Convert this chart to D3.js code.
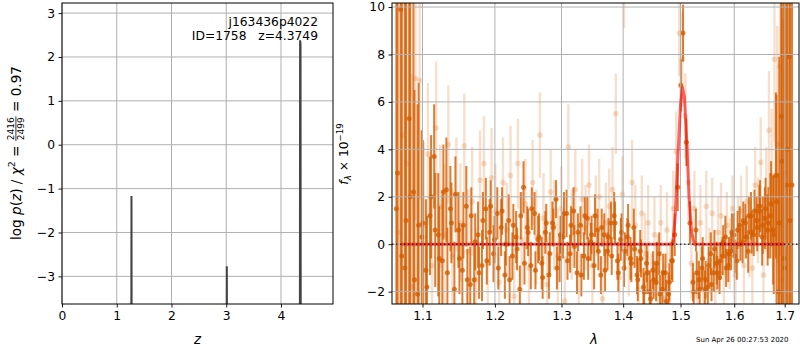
<!DOCTYPE html>
<html>
<head>
<meta charset="utf-8">
<script src="https://cdn.jsdelivr.net/npm/d3@7"></script>
<style>
  body { margin: 0; background: #fff; }
  svg { font-family: "DejaVu Sans", sans-serif; }
</style>
</head>
<body>
<svg id="chart" width="800" height="350"></svg>
<script>
// ---- left panel: log p(z)
const zValues = [0, 1.262, 1.269, 1.276, 3.004, 3.011, 3.018, 4.343, 4.349, 4.357, 4.363, 4.95];
const logP = [-8, -8, -1.17, -8, -8, -2.77, -8, -8, 2.38, 2.3, -8, -8];
const zTicks = [0, 1, 2, 3, 4];
const pTicks = [-3, -2, -1, 0, 1, 2, 3];

// ---- right panel: spectrum (two dark sets, one light set)
const darkWave = [1.066, 1.0715, 1.077, 1.0825, 1.088, 1.0935, 1.099, 1.1045, 1.11, 1.1155,
  1.121, 1.1265, 1.132, 1.1375, 1.143, 1.1485, 1.154, 1.1595, 1.165, 1.1705,
  1.176, 1.1815, 1.187, 1.1925, 1.198, 1.2035, 1.209, 1.2145, 1.22, 1.2255,
  1.231, 1.2365, 1.242, 1.2475, 1.253, 1.2585, 1.264, 1.2695, 1.275, 1.2805,
  1.286, 1.2915, 1.297, 1.3025, 1.308, 1.3135, 1.319, 1.3245, 1.33, 1.3355,
  1.341, 1.3465, 1.352, 1.3575, 1.363, 1.3685, 1.374, 1.3795, 1.385, 1.3905,
  1.396, 1.4015, 1.407, 1.4125, 1.418, 1.4235, 1.429, 1.4345, 1.44, 1.4455,
  1.451, 1.4565, 1.462, 1.4675, 1.473, 1.4785, 1.484, 1.4895, 1.495, 1.5005,
  1.5045, 1.5105, 1.517, 1.5225, 1.528, 1.5335, 1.539, 1.5445, 1.55, 1.5555,
  1.561, 1.5665, 1.572, 1.5775, 1.583, 1.5885, 1.594, 1.5995, 1.605, 1.6105,
  1.616, 1.6215, 1.627, 1.6325, 1.638, 1.6435, 1.649, 1.6545, 1.66, 1.6655,
  1.671, 1.6765, 1.682, 1.6875, 1.693, 1.6985, 1.704, 1.7095, 1.715];
const darkFlux = [1.5, 9.9, -1.0, 5.3, 2.2, -2.1, 0.3, -1.1, 1.2, 3.7,
  0.4, -0.7, 2.3, 1.5, -1.9, 0.6, -1.1, 1.6, -1.7, -1.5,
  0.4, -0.9, 1.5, 0.5, -0.4, 1.3, 0.7, -1.3, 1.0, -0.5,
  0.3, -1.9, 2.4, 0.7, -0.9, 1.3, 0.2, -0.8, 0.5, -1.3,
  0.9, 1.9, -0.6, 0.3, 1.3, -0.4, 1.4, -1.2, 0.8, -0.5,
  1.1, 0.1, -0.9, 0.6, -1.3, 0.4, -0.3, 0.9, 1.2, -0.7,
  0.2, -1.0, 0.3, -0.6, 0.7, -1.3, -0.3, -1.8, -0.8, -2.0,
  -1.1, -1.6, -0.4, -1.9, -1.2, -2.1, -0.7, 0.4, 2.4, 6.7,
  8.9, 4.3, 0.9, -1.6, 0.6, -1.5, -1.0, -1.9, -1.8, -0.4,
  -1.2, -0.8, -1.4, -0.5, 0.3, -0.9, -0.3, 0.4, -0.7, 0.8,
  0.1, 0.9, -0.3, 1.2, 0.4, 1.0, 1.4, 0.3, 1.1, 0.6,
  1.2, 0.6, 2.9, -2.0, 5.4, -0.6, 2.5, 7.9, 2.5];
const darkErr = [15, 14, 12, 10, 9, 8, 4.5, 3.0, 2.5, 2.2,
  2.6, 2.8, 2.2, 1.8, 2.0, 1.6, 1.9, 1.7, 1.6, 1.5,
  1.4, 1.5, 1.3, 1.4, 1.2, 1.1, 1.2, 1.0, 1.1, 1.0,
  1.1, 1.0, 1.1, 0.9, 1.0, 0.9, 1.0, 1.1, 0.9, 1.0,
  0.9, 0.8, 1.0, 0.9, 1.0, 0.8, 1.0, 0.9, 0.8, 1.0,
  0.9, 0.8, 1.0, 0.9, 0.8, 0.9, 0.8, 0.9, 1.0, 0.8,
  0.9, 0.8, 0.8, 0.9, 0.8, 0.8, 0.9, 0.8, 0.8, 0.9,
  0.8, 0.8, 0.9, 0.8, 0.8, 0.9, 0.8, 0.9, 1.0, 1.1,
  1.2, 1.0, 0.9, 0.8, 0.9, 0.8, 0.9, 0.8, 0.8, 0.9,
  0.8, 0.9, 0.7, 0.8, 0.9, 0.7, 0.8, 0.9, 0.8, 0.8,
  0.9, 0.8, 0.9, 1.0, 0.9, 1.0, 1.1, 1.2, 1.3, 1.5,
  1.8, 2.3, 3.5, 5, 8, 11, 14, 16, 18];

const darkWave2 = [1.0674, 1.0729, 1.0784, 1.0839, 1.0894, 1.0949, 1.1004, 1.1059, 1.1114, 1.1169,
  1.1224, 1.1279, 1.1334, 1.1389, 1.1444, 1.1499, 1.1554, 1.1609, 1.1664, 1.1719,
  1.1774, 1.1829, 1.1884, 1.1939, 1.1994, 1.2049, 1.2104, 1.2159, 1.2214, 1.2269,
  1.2324, 1.2379, 1.2434, 1.2489, 1.2544, 1.2599, 1.2654, 1.2709, 1.2764, 1.2819,
  1.2874, 1.2929, 1.2984, 1.3039, 1.3094, 1.3149, 1.3204, 1.3259, 1.3314, 1.3369,
  1.3424, 1.3479, 1.3534, 1.3589, 1.3644, 1.3699, 1.3754, 1.3809, 1.3864, 1.3919,
  1.3974, 1.4029, 1.4084, 1.4139, 1.4194, 1.4249, 1.4304, 1.4359, 1.4414, 1.4469,
  1.4524, 1.4579, 1.4634, 1.4689, 1.4744, 1.4799, 1.4854, 1.5239, 1.5294, 1.5349,
  1.5404, 1.5459, 1.5514, 1.5569, 1.5624, 1.5679, 1.5734, 1.5789, 1.5844, 1.5899,
  1.5954, 1.6009, 1.6064, 1.6119, 1.6174, 1.6229, 1.6284, 1.6339, 1.6394, 1.6449,
  1.6504, 1.6559, 1.6614, 1.6669, 1.6724, 1.6779, 1.6834, 1.6889, 1.6944, 1.6999,
  1.7054, 1.7109];
const darkFlux2 = [3.0, -0.5, 1.0, 2.0, -1.5, 0.8, 0.9, -1.8, 2.0, 0.6,
  -0.6, 2.2, -1.2, 0.9, 2.1, -0.6, 0.8, -1.5, 1.2, 0.1,
  -1.2, 1.0, -0.7, 1.6, 0.2, -1.0, 1.4, 0.0, -1.5, 0.8,
  -0.2, 1.2, -0.8, 0.5, 1.5, -1.1, 0.3, -1.4, 0.9, -0.4,
  0.7, -1.0, 0.4, 1.3, -0.7, 0.8, -0.1, 0.5, -1.3, 1.2,
  -0.6, 0.4, 1.2, -0.3, 0.7, -1.1, 0.3, -0.5, 0.9, -1.2,
  0.5, -0.3, 0.8, -0.8, -0.2, -1.5, -0.6, -2.0, -1.2, -2.3,
  -1.5, -0.8, -2.1, -1.2, -2.4, -1.6, -0.7, -2.0, -1.2, -1.9,
  -0.6, -1.5, -0.9, -1.7, -0.2, -1.2, -0.7, 0.1, -1.0, -0.4,
  0.5, -0.5, 0.6, 0.0, 1.0, 0.3, 1.2, 0.5, 1.4, 0.7,
  1.6, 0.8, 1.5, 0.9, 1.7, 0.4, 1.8, 0.9, 3.5, -1.0,
  4.0, 1.0];
const darkErr2 = [16, 14, 12, 10, 8, 6, 3.5, 3.0, 2.6, 2.4,
  2.2, 2.0, 1.9, 1.7, 1.6, 1.5, 1.4, 1.3, 1.2, 1.2,
  1.1, 1.2, 1.0, 1.1, 1.0, 0.9, 1.0, 0.9, 1.0, 0.9,
  0.9, 1.0, 0.9, 1.0, 0.9, 0.8, 1.0, 0.9, 0.8, 0.9,
  0.8, 0.9, 0.8, 0.9, 0.8, 0.8, 0.9, 0.8, 0.9, 0.8,
  0.9, 0.8, 0.9, 0.8, 0.8, 0.9, 0.8, 0.8, 0.9, 0.8,
  0.8, 0.8, 0.9, 0.8, 0.8, 0.9, 0.8, 0.8, 0.9, 0.8,
  0.8, 0.9, 0.8, 0.8, 0.9, 0.8, 0.9, 0.8, 0.9, 0.8,
  0.9, 0.8, 0.8, 0.7, 0.8, 0.7, 0.8, 0.7, 0.8, 0.7,
  0.8, 0.7, 0.8, 0.7, 0.8, 0.9, 0.8, 0.9, 0.9, 1.0,
  1.1, 1.2, 1.3, 1.5, 1.8, 2.5, 4.5, 7, 10, 13,
  15, 17];

const lightWave = [1.0687, 1.0742, 1.0797, 1.0852, 1.0907, 1.0962, 1.1017, 1.1072, 1.1127, 1.1182,
  1.1237, 1.1292, 1.1347, 1.1402, 1.1457, 1.1512, 1.1567, 1.1622, 1.1677, 1.1732,
  1.1787, 1.1842, 1.1897, 1.1952, 1.2007, 1.2062, 1.2117, 1.2172, 1.2227, 1.2282,
  1.2337, 1.2392, 1.2447, 1.2502, 1.2557, 1.2612, 1.2667, 1.2722, 1.2777, 1.2832,
  1.2887, 1.2942, 1.2997, 1.3052, 1.3107, 1.3162, 1.3217, 1.3272, 1.3327, 1.3382,
  1.3437, 1.3492, 1.3547, 1.3602, 1.3657, 1.3712, 1.3767, 1.3822, 1.3877, 1.3932,
  1.3987, 1.4017, 1.4097, 1.4152, 1.4207, 1.4262, 1.4317, 1.4372, 1.4427, 1.4482,
  1.4537, 1.4592, 1.4647, 1.4702, 1.4757, 1.4812, 1.4867, 1.4922, 1.4977, 1.5032,
  1.5087, 1.5142, 1.5197, 1.5252, 1.5307, 1.5362, 1.5417, 1.5472, 1.5527, 1.5582,
  1.5637, 1.5692, 1.5747, 1.5802, 1.5857, 1.5912, 1.5967, 1.6022, 1.6077, 1.6132,
  1.6187, 1.6242, 1.6297, 1.6352, 1.6407, 1.6462, 1.6517, 1.6572, 1.6627, 1.6682,
  1.6737, 1.6792, 1.6847, 1.6902, 1.6957, 1.7012];
const lightFlux = [0.5, 4.6, 3.4, -1.8, 7.0, 6.9, 0.8, 3.8, -0.9, 4.9,
  1.6, 0.4, 4.2, -0.5, 2.1, 0.9, 4.15, -0.3, 1.8, -1.5,
  2.7, 3.4, -0.8, 2.8, 1.4, -1.6, 2.6, 0.6, 2.9, -2.2,
  3.4, 0.2, 1.7, -1.0, 2.6, 0.3, 4.6, 1.1, -1.7, 2.2,
  0.8, -0.5, 1.5, -2.4, 4.1, 0.4, 2.3, -1.3, 1.9, 0.7,
  2.5, -0.9, 1.2, 2.0, -2.3, 0.9, 1.6, 2.3, 5.5, -1.4,
  2.1, 12.0, -0.6, 2.6, 0.8, -1.9, 1.3, -0.4, 0.9, -2.1,
  0.4, -1.1, 0.9, -2.3, 0.6, -1.4, 1.5, 3.9, 8.9, 7.8,
  5.4, 2.6, -0.8, 1.5, -2.2, 0.9, -1.5, 1.6, -0.7, 1.3,
  -1.9, 0.5, 1.2, -1.2, 0.8, -0.4, 1.5, -1.3, 0.6, 1.4,
  -0.9, 1.8, 0.2, -1.0, 2.5, 1.0, 3.45, -1.3, 1.9, 4.8,
  2.9, 7.8, 4.2, 7.5, -1.5, 3.0];
const lightErr = [14, 12, 10, 9, 6, 5, 3.5, 3, 3, 2.8,
  2.6, 3, 2.5, 2.8, 2.4, 2.5, 2.2, 2.6, 2.3, 2.2,
  2.1, 2.0, 2.3, 2.1, 2.0, 2.2, 1.9, 2.0, 2.1, 2.0,
  1.9, 2.0, 1.9, 2.1, 1.8, 2.0, 1.8, 1.9, 2.0, 1.8,
  1.9, 2.0, 1.8, 1.9, 1.8, 1.9, 1.7, 1.8, 1.7, 1.8,
  1.7, 1.8, 1.7, 1.6, 1.8, 1.7, 1.6, 1.8, 1.7, 1.7,
  1.6, 2.9, 1.6, 1.8, 1.7, 1.7, 1.6, 1.7, 1.6, 1.7,
  1.6, 1.5, 1.6, 1.5, 1.6, 1.5, 1.6, 1.7, 1.8, 2.0,
  1.8, 1.6, 1.5, 1.6, 1.5, 1.6, 1.5, 1.5, 1.4, 1.5,
  1.4, 1.5, 1.4, 1.5, 1.4, 1.5, 1.4, 1.5, 1.4, 1.5,
  1.6, 1.5, 1.6, 1.7, 1.6, 1.8, 1.9, 2.0, 2.2, 2.5,
  2.8, 3.5, 5, 8, 11, 14];

const modelWave = [1.072, 1.486, 1.4905, 1.495, 1.5, 1.5035, 1.507, 1.511, 1.5155, 1.52, 1.525, 1.700];
const modelFlux = [0, 0, 1.2, 3.6, 5.9, 6.6, 6.2, 4.4, 2.0, 0.5, 0, 0];

const waveTicks = [1.1, 1.2, 1.3, 1.4, 1.5, 1.6, 1.7];
const fluxTicks = [-2, 0, 2, 4, 6, 8, 10];

const fs = 12.3;
const gridColor = "#b0b0b0";
const orange = "#d55e00";

const svg = d3.select("#chart");
const defs = svg.append("defs");

function addClip(id, b) {
  defs.append("clipPath").attr("id", id)
    .append("rect")
    .attr("x", b.x0).attr("y", b.y0)
    .attr("width", b.x1 - b.x0).attr("height", b.y1 - b.y0);
}

const minus = d => d < 0 ? "\u2212" + Math.abs(d) : d;

// ================= left panel =================
const L = { x0: 62, x1: 333, y0: 3, y1: 304 };
addClip("clipL", L);

const xz = d3.scaleLinear().domain([0, 4.95]).range([L.x0, L.x1]);
const yp = d3.scaleLinear().domain([-3.63, 3.23]).range([L.y1, L.y0]);

const left = svg.append("g");

// grid
left.append("g").selectAll("line").data(zTicks).join("line")
  .attr("x1", d => xz(d)).attr("x2", d => xz(d))
  .attr("y1", L.y0).attr("y2", L.y1)
  .attr("stroke", gridColor).attr("stroke-width", 1);
left.append("g").selectAll("line").data(pTicks).join("line")
  .attr("x1", L.x0).attr("x2", L.x1)
  .attr("y1", d => yp(d)).attr("y2", d => yp(d))
  .attr("stroke", gridColor).attr("stroke-width", 1);

// p(z) curve
left.append("path")
  .datum(zValues.map((z, i) => [z, logP[i]]))
  .attr("clip-path", "url(#clipL)")
  .attr("fill", "none")
  .attr("stroke", "#444")
  .attr("stroke-width", 2)
  .attr("d", d3.line().x(d => xz(d[0])).y(d => yp(d[1])));

// axes
left.append("g")
  .attr("transform", `translate(0,${L.y1})`)
  .call(d3.axisBottom(xz).tickValues(zTicks).tickFormat(d3.format("d")).tickSize(3.5).tickPadding(3.5))
  .call(styleAxis);
left.append("g")
  .attr("transform", `translate(${L.x0},0)`)
  .call(d3.axisLeft(yp).tickValues(pTicks).tickFormat(minus).tickSize(3.5).tickPadding(3.5))
  .call(styleAxis);

left.append("rect")
  .attr("x", L.x0).attr("y", L.y0)
  .attr("width", L.x1 - L.x0).attr("height", L.y1 - L.y0)
  .attr("fill", "none").attr("stroke", "#000").attr("stroke-width", 1);

// annotation
left.append("text")
  .attr("x", 318).attr("y", 26)
  .attr("text-anchor", "end").attr("font-size", fs)
  .text("j163436p4022");
left.append("text")
  .attr("x", 318).attr("y", 39.5)
  .attr("text-anchor", "end").attr("font-size", fs)
  .attr("xml:space", "preserve")
  .text("ID=1758   z=4.3749");

// x label
left.append("text")
  .attr("x", (L.x0 + L.x1) / 2).attr("y", 344)
  .attr("text-anchor", "middle").attr("font-size", fs + 1)
  .attr("font-style", "italic")
  .text("z");

// y label: log p(z) / χ² = 2416/2499 = 0.97
const lfs = 13.6;
const yl = left.append("g").attr("transform", "translate(20.5,153) rotate(-90)");
const part1 = yl.append("text").attr("font-size", lfs).attr("xml:space", "preserve");
part1.append("tspan").text("log ");
part1.append("tspan").attr("font-style", "italic").text("p");
part1.append("tspan").text("(");
part1.append("tspan").attr("font-style", "italic").text("z");
part1.append("tspan").text(") / ");
part1.append("tspan").attr("font-style", "italic").text("\u03c7");
part1.append("tspan").attr("font-size", lfs * 0.7).attr("dy", -5.6).text("2");
part1.append("tspan").attr("dy", 5.6).text(" = ");
const num = yl.append("text").attr("font-size", lfs * 0.66).attr("text-anchor", "middle").text("2416");
const den = yl.append("text").attr("font-size", lfs * 0.66).attr("text-anchor", "middle").text("2499");
const part3 = yl.append("text").attr("font-size", lfs).attr("xml:space", "preserve").text(" = 0.97");

const w1 = part1.node().getComputedTextLength();
const wf = Math.max(num.node().getComputedTextLength(), den.node().getComputedTextLength()) + 2;
const w3 = part3.node().getComputedTextLength();
const total = w1 + wf + w3;
let cx = -total / 2;
part1.attr("x", cx);
cx += w1;
num.attr("x", cx + wf / 2).attr("y", -6.2);
den.attr("x", cx + wf / 2).attr("y", 3.2);
yl.append("line")
  .attr("x1", cx).attr("x2", cx + wf)
  .attr("y1", -4.6).attr("y2", -4.6)
  .attr("stroke", "#000").attr("stroke-width", 0.8);
cx += wf;
part3.attr("x", cx);

// ================= right panel =================
const R = { x0: 392, x1: 799, y0: 3, y1: 304 };
addClip("clipR", R);

const xw = d3.scaleLog().domain([1.0604, 1.7295]).range([R.x0, R.x1]);
const yf = d3.scaleLinear().domain([-2.52, 10.17]).range([R.y1, R.y0]);

const right = svg.append("g");
const plot = right.append("g").attr("clip-path", "url(#clipR)");

function drawSet(wave, flux, err, alpha, r, lw) {
  const pts = wave.map((w, i) => ({ w, f: flux[i], e: err[i] }));
  const g = plot.append("g");
  g.selectAll("line").data(pts).join("line")
    .attr("x1", d => xw(d.w)).attr("x2", d => xw(d.w))
    .attr("y1", d => yf(d.f - d.e)).attr("y2", d => yf(d.f + d.e))
    .attr("stroke", orange).attr("stroke-opacity", alpha)
    .attr("stroke-width", lw);
  g.selectAll("circle").data(pts).join("circle")
    .attr("cx", d => xw(d.w)).attr("cy", d => yf(d.f))
    .attr("r", r)
    .attr("fill", orange).attr("fill-opacity", alpha);
}

drawSet(lightWave, lightFlux, lightErr, 0.2, 2.8, 2.4);
drawSet(darkWave2, darkFlux2, darkErr2, 0.8, 2.5, 2);
drawSet(darkWave, darkFlux, darkErr, 0.8, 2.5, 2);

// grid above the data
right.append("g").selectAll("line").data(waveTicks).join("line")
  .attr("x1", d => xw(d)).attr("x2", d => xw(d))
  .attr("y1", R.y0).attr("y2", R.y1)
  .attr("stroke", gridColor).attr("stroke-width", 1);
right.append("g").selectAll("line").data(fluxTicks).join("line")
  .attr("x1", R.x0).attr("x2", R.x1)
  .attr("y1", d => yf(d)).attr("y2", d => yf(d))
  .attr("stroke", gridColor).attr("stroke-width", 1);

// model
right.append("path")
  .datum(modelWave.map((w, i) => [w, modelFlux[i]]))
  .attr("clip-path", "url(#clipR)")
  .attr("fill", "none")
  .attr("stroke", "red").attr("stroke-opacity", 0.6)
  .attr("stroke-width", 3)
  .attr("stroke-linejoin", "round")
  .attr("d", d3.line().x(d => xw(d[0])).y(d => yf(d[1])));

// zero level, dotted
right.append("line")
  .attr("x1", R.x0).attr("x2", R.x1)
  .attr("y1", yf(0)).attr("y2", yf(0))
  .attr("stroke", "#000").attr("stroke-opacity", 0.75)
  .attr("stroke-width", 1.4)
  .attr("stroke-dasharray", "1.4,2.6");

right.append("g")
  .attr("transform", `translate(0,${R.y1})`)
  .call(d3.axisBottom(xw).tickValues(waveTicks).tickFormat(d3.format(".1f")).tickSize(3.5).tickPadding(3.5))
  .call(styleAxis);
right.append("g")
  .attr("transform", `translate(${R.x0},0)`)
  .call(d3.axisLeft(yf).tickValues(fluxTicks).tickFormat(minus).tickSize(3.5).tickPadding(3.5))
  .call(styleAxis);

right.append("rect")
  .attr("x", R.x0).attr("y", R.y0)
  .attr("width", R.x1 - R.x0).attr("height", R.y1 - R.y0)
  .attr("fill", "none").attr("stroke", "#000").attr("stroke-width", 1);

right.append("text")
  .attr("x", 594).attr("y", 344)
  .attr("text-anchor", "middle").attr("font-size", fs + 1)
  .attr("font-style", "italic")
  .text("\u03bb");

// y label: f_λ × 10^-19
const yr = right.append("g").attr("transform", "translate(348,154) rotate(-90)");
const fl = yr.append("text").attr("font-size", fs).attr("text-anchor", "middle").attr("xml:space", "preserve");
fl.append("tspan").attr("font-style", "italic").text("f");
fl.append("tspan").attr("font-style", "italic").attr("font-size", fs * 0.7).attr("dy", 2.5).text("\u03bb");
fl.append("tspan").attr("dy", -2.5).text(" \u00d7 10");
fl.append("tspan").attr("font-size", fs * 0.7).attr("dy", -5).text("\u221219");

// timestamp
svg.append("text")
  .attr("x", 696).attr("y", 342)
  .attr("font-size", 7)
  .text("Sun Apr 26 00:27:53 2020");

function styleAxis(g) {
  g.select(".domain").remove();
  g.selectAll(".tick line").attr("stroke", "#000").attr("stroke-width", 0.9);
  g.selectAll(".tick text")
    .attr("font-size", fs)
    .attr("font-family", "DejaVu Sans, sans-serif")
    .attr("fill", "#000");
}
</script>
</body>
</html>
